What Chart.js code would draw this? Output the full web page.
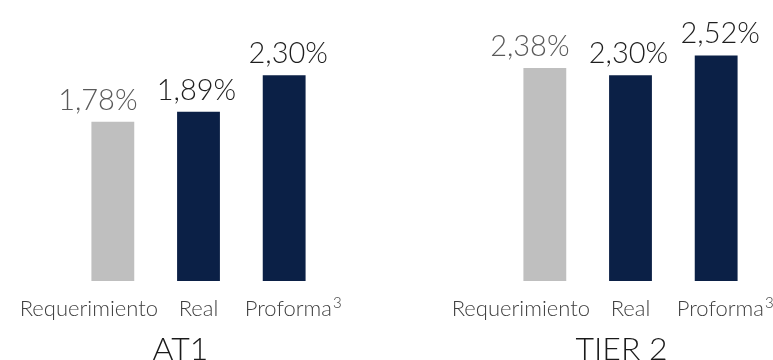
<!DOCTYPE html>
<html>
<head>
<meta charset="utf-8">
<script src="https://cdn.jsdelivr.net/npm/chart.js@4.4.1/dist/chart.umd.min.js"></script>
<style>
  html, body { margin: 0; padding: 0; background: #fff; }
  body { width: 773px; height: 360px; overflow: hidden; position: relative; }
  .panel { position: absolute; top: 0; height: 360px; }
  #panelAT1 { left: 0; width: 386px; }
  #panelTier2 { left: 386px; width: 387px; }
</style>
</head>
<body>
<div class="panel" id="panelAT1"><canvas id="chartAT1"></canvas></div>
<div class="panel" id="panelTier2"><canvas id="chartTier2"></canvas></div>
<script>
const categories = ['Requerimiento', 'Real', 'Proforma³'];
const groupTitles = ['AT1', 'TIER 2'];
const at1Values = [1.78, 1.89, 2.30];
const tier2Values = [2.38, 2.30, 2.52];

const GRAY = '#bfbfbf';
const NAVY = '#0b2046';
const barColors = [GRAY, NAVY, NAVY];
const valueColors = ['#5a5a5a', '#1e1e1e', '#1e1e1e'];
const FONT = 'Lato, "Open Sans", sans-serif';

const fmt = v => v.toFixed(2).replace('.', ',') + '%';

// category name, with a trailing footnote mark drawn as a raised digit
function drawCategory(ctx, text, x, y) {
  const sup = { '¹': '1', '²': '2', '³': '3' }[text.slice(-1)];
  ctx.textAlign = 'left';
  ctx.font = '300 22px ' + FONT;
  const base = sup ? text.slice(0, -1) : text;
  const wBase = ctx.measureText(base).width;
  let wSup = 0;
  if (sup) {
    ctx.font = '300 15px ' + FONT;
    wSup = ctx.measureText(sup).width + 1;
  }
  const x0 = x - (wBase + wSup) / 2;
  ctx.font = '300 22px ' + FONT;
  ctx.fillText(base, x0, y);
  if (sup) {
    ctx.font = '300 15px ' + FONT;
    ctx.fillText(sup, x0 + wBase + 1, y - 8);
  }
  ctx.textAlign = 'center';
}

// draws value labels, category names and the group name
const barText = {
  id: 'barText',
  afterDatasetsDraw(chart, args, opts) {
    const ctx = chart.ctx;
    const area = chart.chartArea;
    const meta = chart.getDatasetMeta(0);
    const values = chart.data.datasets[0].data;
    ctx.save();
    ctx.textAlign = 'center';
    ctx.textBaseline = 'alphabetic';

    meta.data.forEach((bar, i) => {
      ctx.font = '300 29px ' + FONT;
      ctx.fillStyle = valueColors[i];
      ctx.fillText(fmt(values[i]), bar.x + opts.valueShift[i], bar.y - 12);

      ctx.fillStyle = '#404040';
      drawCategory(ctx, chart.data.labels[i], bar.x + opts.labelShift[i], area.bottom + 35);
    });

    ctx.font = '300 32px ' + FONT;
    ctx.fillStyle = '#1a1a1a';
    const mid = (area.left + area.right) / 2;
    ctx.fillText(opts.title, mid + opts.titleShift, area.bottom + 79);
    ctx.restore();
  }
};

function makeChart(id, values, title, pad, titleShift) {
  return new Chart(document.getElementById(id), {
    type: 'bar',
    data: {
      labels: categories,
      datasets: [{
        data: values,
        backgroundColor: barColors,
        borderWidth: 0,
        barPercentage: 0.5,
        categoryPercentage: 1.0
      }]
    },
    options: {
      responsive: true,
      maintainAspectRatio: false,
      animation: false,
      layout: { padding: pad },
      scales: {
        x: { display: false },
        y: { display: false, min: 0, max: 3 }
      },
      plugins: {
        legend: { display: false },
        tooltip: { enabled: false },
        barText: {
          title: title,
          titleShift: titleShift,
          valueShift: [-15, -2, 4],
          labelShift: [-24, 0, 9]
        }
      }
    },
    plugins: [barText]
  });
}

makeChart('chartAT1', at1Values, groupTitles[0], { left: 70, right: 59, top: 12.5, bottom: 79 }, -18);
makeChart('chartTier2', tier2Values, groupTitles[1], { left: 116, right: 14, top: 12.5, bottom: 79 }, -9);
</script>
</body>
</html>
